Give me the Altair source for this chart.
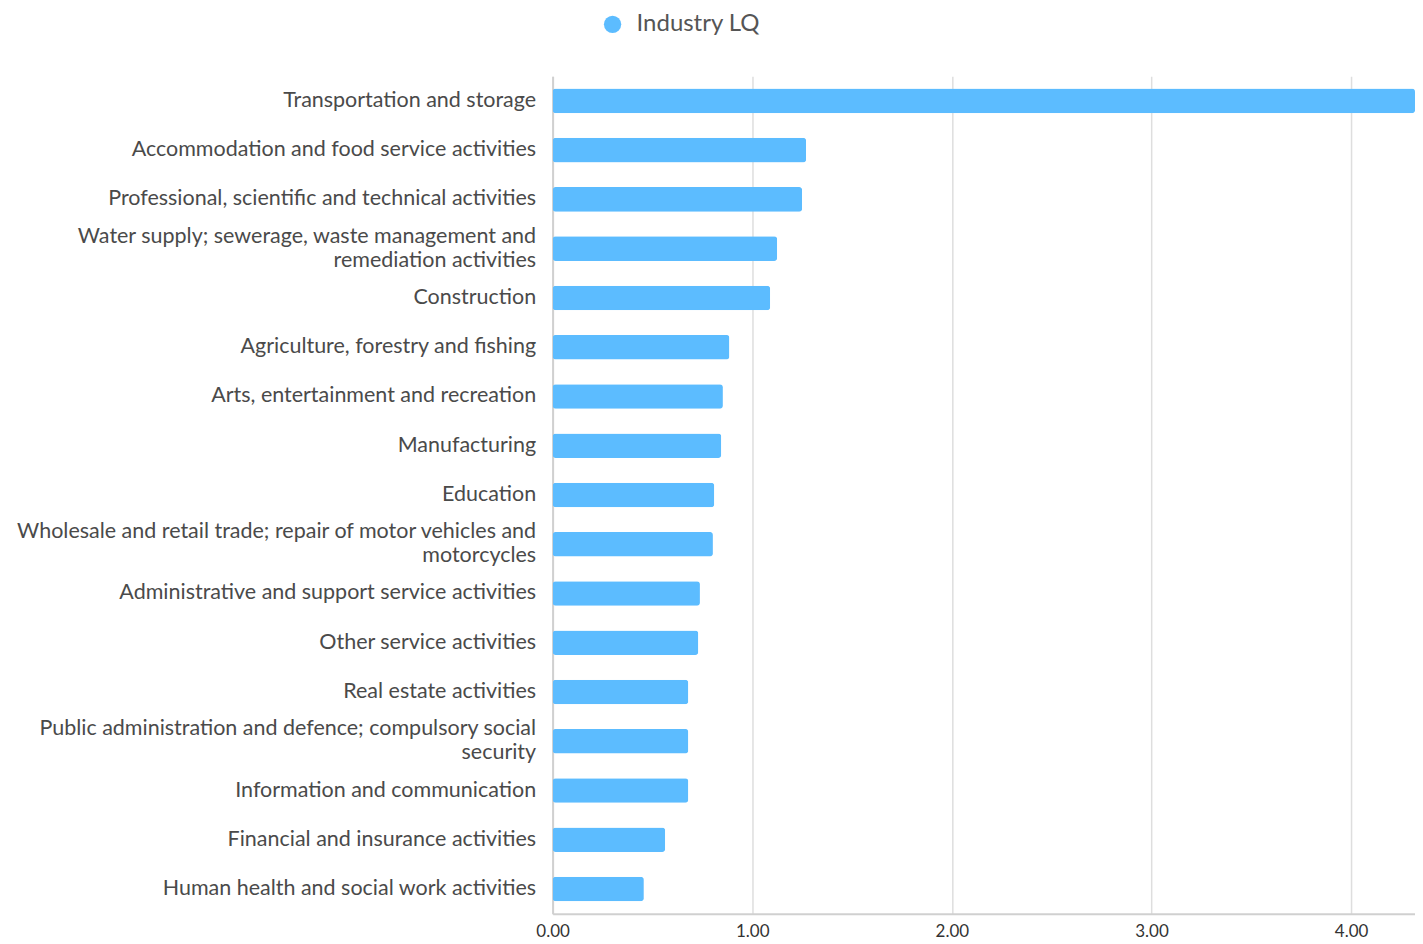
import altair as alt
import pandas as pd

industries = [
    "Transportation and storage",
    "Accommodation and food service activities",
    "Professional, scientific and technical activities",
    "Water supply; sewerage, waste management and|remediation activities",
    "Construction",
    "Agriculture, forestry and fishing",
    "Arts, entertainment and recreation",
    "Manufacturing",
    "Education",
    "Wholesale and retail trade; repair of motor vehicles and|motorcycles",
    "Administrative and support service activities",
    "Other service activities",
    "Real estate activities",
    "Public administration and defence; compulsory social|security",
    "Information and communication",
    "Financial and insurance activities",
    "Human health and social work activities",
]
lq_values = [4.32, 1.27, 1.25, 1.125, 1.09, 0.886, 0.853, 0.845, 0.81, 0.803,
             0.738, 0.73, 0.68, 0.68, 0.68, 0.564, 0.457]
series_name = "Industry LQ"

df = pd.DataFrame({"industry": industries, "lq": lq_values, "series": series_name})

FONT = "Lato"

chart = alt.Chart(df).mark_bar(cornerRadius=3).encode(
    y=alt.Y(
        "industry:N",
        sort=industries,
        title=None,
        scale=alt.Scale(paddingInner=0.5, paddingOuter=0.25),
        axis=alt.Axis(
            labelExpr="split(datum.label, '|')",
            labelFont=FONT,
            labelFontSize=21.5,
            labelColor="#4a4a4a",
            labelPadding=17,
            labelOffset={"condition": {"test": "indexof(datum.value, '|') >= 0", "value": -12}, "value": 0},
            ticks=False,
            domain=True,
            domainColor="#d0d0d0",
            domainWidth=2,
            labelLimit=800,
            labelLineHeight=24,
        ),
    ),
    x=alt.X(
        "lq:Q",
        title=None,
        scale=alt.Scale(domain=[0, 4.32], nice=False),
        axis=alt.Axis(
            values=[0, 1, 2, 3, 4],
            format=".2f",
            labelFont=FONT,
            labelFontSize=17,
            labelColor="#333333",
            labelPadding=10,
            labelFlush=False,
            ticks=False,
            grid=True,
            gridColor="#dedede",
            gridWidth=1.5,
            domainColor="#d0d0d0",
            domainWidth=2,
        ),
    ),
    color=alt.Color(
        "series:N",
        scale=alt.Scale(domain=[series_name], range=["#5cbcff"]),
        legend=alt.Legend(
            title=None,
            orient="none",
            legendX=48,
            legendY=-64,
            symbolType="circle",
            symbolSize=300,
            symbolStrokeWidth=0,
            labelFont=FONT,
            labelFontSize=24,
            labelColor="#555555",
            labelOffset=12,
            labelLimit=400,
        ),
    ),
).properties(
    width=863,
    height=838,
    padding={"left": 6, "top": 4, "right": 0, "bottom": 0},
).configure_view(
    stroke=None
)

chart.save("out.html", embed_options={"renderer": "svg", "actions": False})
